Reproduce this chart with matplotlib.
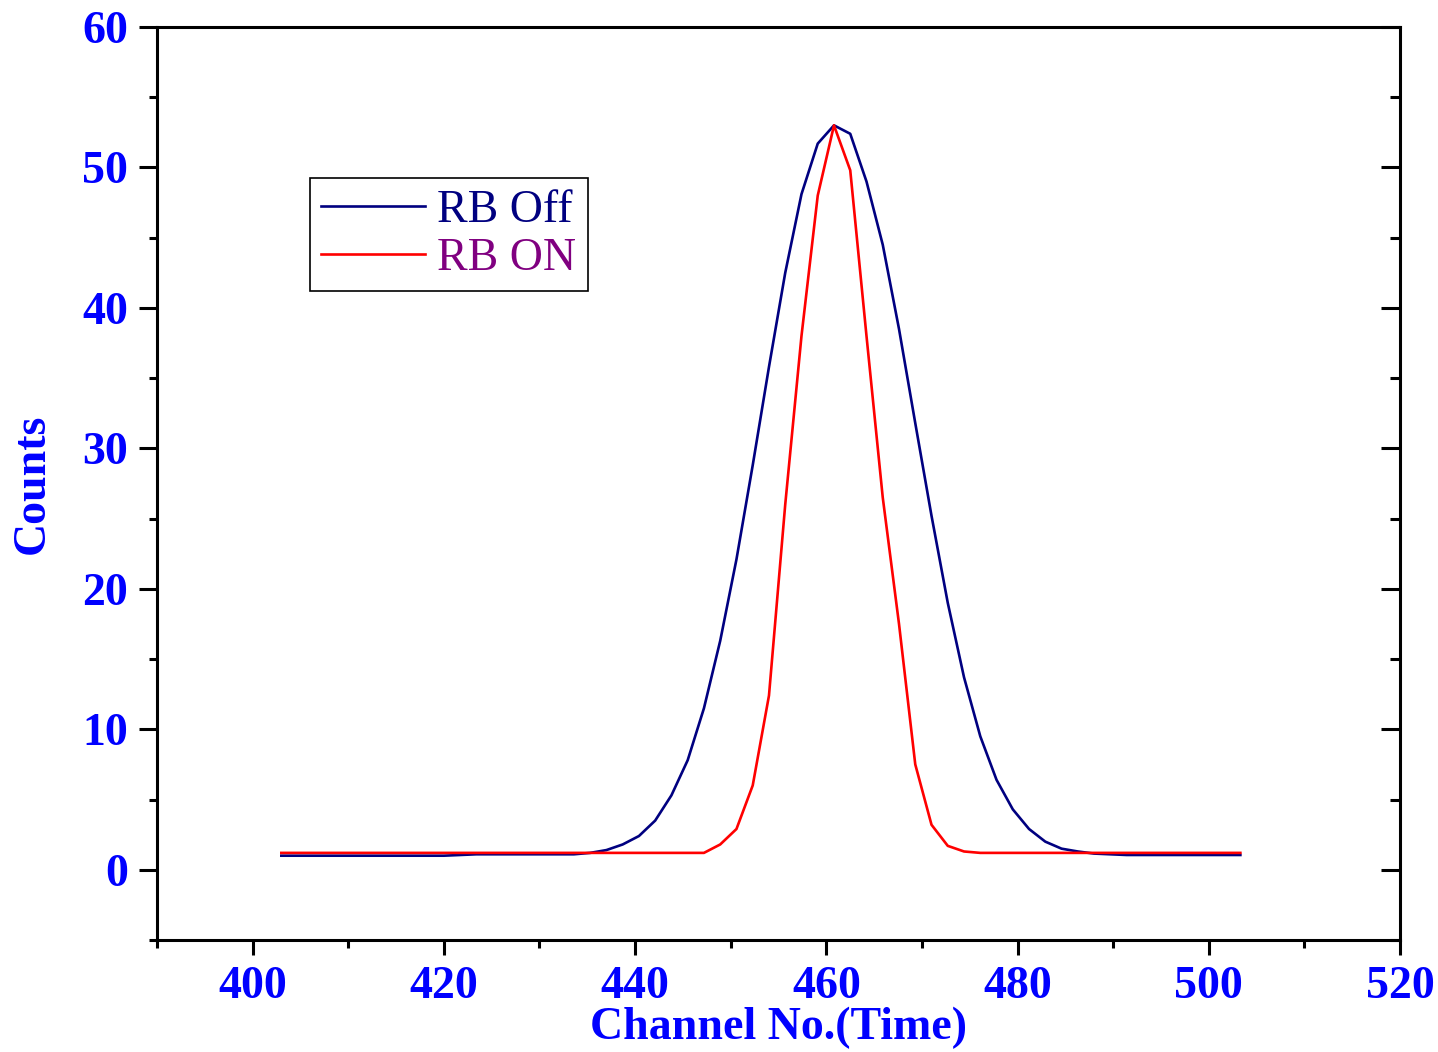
import matplotlib.pyplot as plt
from matplotlib.ticker import MultipleLocator

# channel numbers (time)
channel = [403 + 1.7 * k for k in range(60)]

rb_off = [1.0, 1.0, 1.0, 1.0, 1.0, 1.0, 1.0, 1.0, 1.0, 1.0,
          1.0, 1.05, 1.1, 1.1, 1.1, 1.1, 1.1, 1.1, 1.1, 1.2,
          1.4, 1.8, 2.4, 3.5, 5.3, 7.8, 11.5, 16.3, 22.1, 28.8,
          35.8, 42.5, 48.1, 51.7, 53.0, 52.4, 49.0, 44.5, 38.5, 31.8,
          25.2, 19.0, 13.7, 9.5, 6.4, 4.3, 2.9, 2.0, 1.5, 1.3,
          1.15, 1.1, 1.05, 1.05, 1.05, 1.05, 1.05, 1.05, 1.05, 1.05]

rb_on = [1.2, 1.2, 1.2, 1.2, 1.2, 1.2, 1.2, 1.2, 1.2, 1.2,
         1.2, 1.2, 1.2, 1.2, 1.2, 1.2, 1.2, 1.2, 1.2, 1.2,
         1.2, 1.2, 1.2, 1.2, 1.2, 1.2, 1.2, 1.8, 2.9, 6.0,
         12.4, 26.0, 38.0, 48.0, 53.0, 49.8, 38.0, 26.5, 17.5, 7.5,
         3.2, 1.7, 1.3, 1.2, 1.2, 1.2, 1.2, 1.2, 1.2, 1.2,
         1.2, 1.2, 1.2, 1.2, 1.2, 1.2, 1.2, 1.2, 1.2, 1.2]

plt.rcParams['font.family'] = 'Liberation Serif'

fig = plt.figure(figsize=(14.38, 10.52), dpi=100)
ax = fig.add_axes([0.1092, 0.1065, 0.8644, 0.8678])

ax.plot(channel, rb_off, color='#000080', lw=1.9, label='RB Off')
ax.plot(channel, rb_on, color='#ff0000', lw=1.9, label='RB ON')

ax.set_xlim(390, 520)
ax.set_ylim(-5, 60)
ax.xaxis.set_major_locator(MultipleLocator(20))
ax.xaxis.set_minor_locator(MultipleLocator(10))
ax.yaxis.set_major_locator(MultipleLocator(10))
ax.yaxis.set_minor_locator(MultipleLocator(5))

for s in ax.spines.values():
    s.set_linewidth(2.2)

ax.tick_params(axis='x', which='major', direction='out', length=11, width=2.2,
               top=False, pad=8, labelsize=33, labelcolor='#0000ff')
ax.tick_params(axis='x', which='minor', direction='out', length=6, width=2.2, top=False)
ax.tick_params(axis='y', which='major', direction='out', length=13, width=2.2,
               pad=8, labelsize=33, labelcolor='#0000ff')
ax.tick_params(axis='y', which='minor', direction='out', length=6, width=2.2)

# inward ticks on the right side
ax2 = ax.twinx()
ax2.set_ylim(ax.get_ylim())
ax2.yaxis.set_major_locator(MultipleLocator(10))
ax2.yaxis.set_minor_locator(MultipleLocator(5))
ax2.tick_params(axis='y', which='major', direction='in', length=14, width=2.2, labelright=False)
ax2.tick_params(axis='y', which='minor', direction='in', length=7, width=2.2)
for s in ax2.spines.values():
    s.set_visible(False)

for lbl in ax.get_xticklabels() + ax.get_yticklabels():
    lbl.set_fontweight('bold')

ax.set_xlabel('Channel No.(Time)', fontsize=33, fontweight='bold', color='#0000ff', labelpad=-1)
ax.set_ylabel('Counts', fontsize=33, fontweight='bold', color='#0000ff', labelpad=20)

leg = ax.legend(loc='upper left', bbox_to_anchor=(0.123, 0.835), fontsize=33,
                fancybox=False, edgecolor='black', framealpha=1,
                handlelength=2.25, handletextpad=0.28, borderpad=0.25,
                labelspacing=0.12, borderaxespad=0)
leg.get_frame().set_linewidth(1.2)
leg.get_texts()[0].set_color('#000080')
leg.get_texts()[1].set_color('#800080')

fig.savefig('out.png', dpi=100)
